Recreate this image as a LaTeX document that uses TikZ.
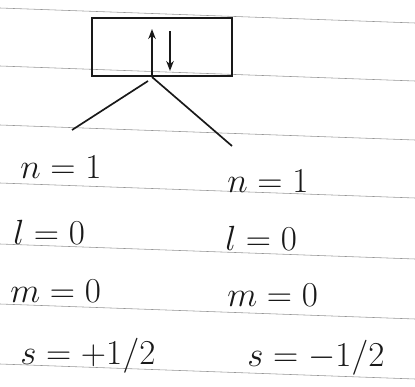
\documentclass[tikz,border=0pt]{standalone}
\usepackage{amsmath}
\usetikzlibrary{arrows.meta, calc}
\definecolor{qnInk}{RGB}{25, 25, 25}
\definecolor{qnRule}{RGB}{150, 150, 150}
\tikzset{
  qnum/.style={anchor=base west, inner sep=0pt, text=qnInk, font=\fontsize{24}{28}\selectfont},
  orbital/.style={rectangle, draw=qnInk, line width=1.4pt, minimum width=3.5cm, minimum height=1.45cm, inner sep=0pt},
  spin/.style={-{Stealth[length=2.5mm]}, very thick, qnInk},
  leg/.style={very thick, qnInk},
  ruling/.style={qnRule, thin},
}

\begin{document}
\begin{tikzpicture}[x=0.025cm, y=-0.025cm]
  \useasboundingbox (0,0) rectangle (415,387);

  % notebook ruling
  \foreach \y in {8, 66, 125, 183, 244, 304, 364} {
    \draw[ruling] (0,\y) -- (415,\y+15);
  }

  % the 1s orbital box
  \node[orbital] (orb) at (162,47) {};
  \draw[spin] ([xshift=-0.25cm, yshift=0.05cm]orb.south) -- ([xshift=-0.25cm, yshift=-0.3cm]orb.north);
  \draw[spin] ([xshift=0.2cm, yshift=-0.35cm]orb.north) -- ([xshift=0.2cm, yshift=0.15cm]orb.south);

  \coordinate (legL) at (72,130);
  \coordinate (legR) at (232,146);
  \draw[leg] ([xshift=-0.35cm, yshift=-0.1cm]orb.south) -- (legL);
  \draw[leg] ([xshift=-0.25cm]orb.south) -- (legR);

  % electron 1
  \node[qnum] (n1) at (20,178) {$n = 1$};
  \node[qnum] (l1) at (13,244) {$l = 0$};
  \node[qnum] (m1) at (10,302) {$m = 0$};
  \node[qnum] (s1) at (20,364) {$s = +1/2$};

  % electron 2
  \node[qnum] (n2) at (227,192) {$n = 1$};
  \node[qnum] (l2) at (225,250) {$l = 0$};
  \node[qnum] (m2) at (227,306) {$m = 0$};
  \node[qnum] (s2) at (247,366) {$s = -1/2$};
\end{tikzpicture}
\end{document}
